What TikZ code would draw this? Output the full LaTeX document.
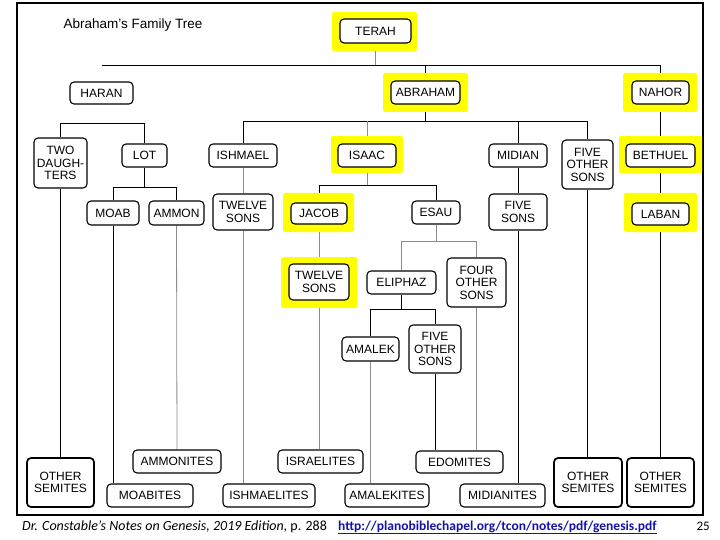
\documentclass[tikz,border=0pt]{standalone}
\usepackage{fontspec}
\setmainfont{Liberation Sans}
\newfontfamily\footfont{Carlito}
\pgfdeclarelayer{background}
\pgfsetlayers{background,main}
\definecolor{hlyellow}{RGB}{255,255,0}
\definecolor{linegray}{RGB}{140,140,140}
\definecolor{urlblue}{RGB}{20,20,170}
\begin{document}
\begin{tikzpicture}[x=1pt,y=-1pt,
  box/.style={draw=black, line width=1.1pt, rounded corners=4pt, fill=white, inner sep=0pt,
    align=center, font=\fontsize{12}{12.5}\selectfont},
  thick box/.style={box, line width=1.7pt},
  hl/.style={fill=hlyellow, rounded corners=2pt, inner sep=0pt},
  conn/.style={draw=black, line width=0.8pt},
  gconn/.style={draw=linegray, line width=0.8pt}]
\useasboundingbox (0,0) rectangle (720,540);
\draw[line width=1.5pt] (17,3) rectangle (703,515);
\node[anchor=base west, font=\fontsize{13.5}{15}\selectfont] (title) at (60,29) {Abraham’s Family Tree};
% highlights
\node[hl, minimum width=85pt, minimum height=39pt] (terahH) at (374.5,31.5) {};
\node[hl, minimum width=85pt, minimum height=39pt] (abrahamH) at (425.5,92.5) {};
\node[hl, minimum width=74pt, minimum height=39pt] (nahorH) at (660,92.5) {};
\node[hl, minimum width=72pt, minimum height=37pt] (isaacH) at (367,154.5) {};
\node[hl, minimum width=83pt, minimum height=37pt] (bethuelH) at (660.5,154.5) {};
\node[hl, minimum width=71pt, minimum height=39pt] (jacobH) at (318.5,212.5) {};
\node[hl, minimum width=73pt, minimum height=39pt] (labanH) at (660.5,212.5) {};
\node[hl, minimum width=76pt, minimum height=51pt] (twelveJH) at (319,282.5) {};
% boxes
\node[box, minimum width=71pt, minimum height=24pt] (terah) at (375.5,31) {TERAH};
\node[box, minimum width=63pt, minimum height=22pt] (haran) at (101.5,93) {HARAN};
\node[box, minimum width=69pt, minimum height=23pt] (abraham) at (425.5,92.5) {ABRAHAM};
\node[box, minimum width=57pt, minimum height=23pt] (nahor) at (660.5,92.5) {NAHOR};
\node[box, minimum width=53pt, minimum height=50pt] (twoD) at (60.5,163) {TWO\\DAUGH-\\TERS};
\node[box, minimum width=45pt, minimum height=23pt] (lot) at (144.5,155.5) {LOT};
\node[box, minimum width=68pt, minimum height=23pt] (ishmael) at (243,155.5) {ISHMAEL};
\node[box, minimum width=58pt, minimum height=23pt] (isaac) at (367,155.5) {ISAAC};
\node[box, minimum width=58pt, minimum height=23pt] (midian) at (518,155.5) {MIDIAN};
\node[box, minimum width=51pt, minimum height=49pt] (fiveOS) at (587.5,164.5) {FIVE\\OTHER\\SONS};
\node[box, minimum width=69pt, minimum height=23pt] (bethuel) at (660.5,155.5) {BETHUEL};
\node[box, minimum width=52pt, minimum height=24pt] (moab) at (113,213) {MOAB};
\node[box, minimum width=55pt, minimum height=24pt] (ammon) at (176.5,213) {AMMON};
\node[box, minimum width=60pt, minimum height=36pt] (twelveI) at (243,212) {TWELVE\\SONS};
\node[box, minimum width=56pt, minimum height=21pt] (jacob) at (319,213.5) {JACOB};
\node[box, minimum width=48pt, minimum height=23pt] (esau) at (436,212.5) {ESAU};
\node[box, minimum width=58pt, minimum height=36pt] (fiveS) at (518,212) {FIVE\\SONS};
\node[box, minimum width=57pt, minimum height=22pt] (laban) at (660.5,214) {LABAN};
\node[box, minimum width=60pt, minimum height=36pt] (twelveJ) at (319,282) {TWELVE\\SONS};
\node[box, minimum width=69pt, minimum height=23pt] (eliphaz) at (401.5,282.5) {ELIPHAZ};
\node[box, minimum width=59pt, minimum height=49pt] (fourOS) at (476.5,282.5) {FOUR\\OTHER\\SONS};
\node[box, minimum width=57pt, minimum height=24pt] (amalek) at (370.5,349) {AMALEK};
\node[box, minimum width=52pt, minimum height=48pt] (fiveOS2) at (435,349) {FIVE\\OTHER\\SONS};
\node[thick box, minimum width=67pt, minimum height=49pt] (otherS1) at (60.5,482.5) {OTHER\\SEMITES};
\node[box, minimum width=88pt, minimum height=23pt] (ammonites) at (177,461.5) {AMMONITES};
\node[box, minimum width=86pt, minimum height=23pt] (moabites) at (150,495.5) {MOABITES};
\node[box, minimum width=92pt, minimum height=23pt] (ishmaelites) at (269,495.5) {ISHMAELITES};
\node[box, minimum width=85pt, minimum height=23pt] (israelites) at (320.5,461.5) {ISRAELITES};
\node[box, minimum width=84pt, minimum height=23pt] (amalekites) at (387,495.5) {AMALEKITES};
\node[box, minimum width=87pt, minimum height=22pt] (edomites) at (459.5,462) {EDOMITES};
\node[box, minimum width=85pt, minimum height=23pt] (midianites) at (502.5,495.5) {MIDIANITES};
\node[thick box, minimum width=68pt, minimum height=49pt] (otherS2) at (588,482.5) {OTHER\\SEMITES};
\node[thick box, minimum width=67pt, minimum height=49pt] (otherS3) at (660.5,482.5) {OTHER\\SEMITES};
% bus coordinates
\coordinate (busT) at (0,65);
\coordinate (busH) at (0,123);
\coordinate (busA) at (0,121);
\coordinate (busL) at (0,187);
\coordinate (busI) at (0,185);
\coordinate (busE) at (0,241);
\coordinate (busP) at (0,309);
\begin{pgfonlayer}{background}
\fill[white] (0,0) rectangle (720,540);
% Terah
\draw[gconn] (terah.south) -- (terah.south |- busT);
\draw[conn] (haran.north |- busT) -- (nahor.north |- busT) -- (nahor.north);
\draw[conn] (abraham.north) -- (abraham.north |- busT);
% Haran children
\draw[conn] (twoD.north) -- (twoD.north |- busH) -- (lot.north |- busH) -- (lot.north);
% Abraham
\draw[conn] (abraham.south) -- (abraham.south |- busA);
\draw[conn] (ishmael.north) -- (ishmael.north |- busA) -- (fiveOS.north |- busA) -- (fiveOS.north);
\draw[gconn] (isaac.north) -- (isaac.north |- busA);
\draw[conn] (midian.north) -- (midian.north |- busA);
% Nahor line
\draw[conn] (nahor.south) -- (bethuel.north);
\draw[conn] (bethuel.south) -- (laban.north);
\draw[conn] (laban.south) -- (otherS3.north);
% Haran line
\draw[conn] (twoD.south) -- (otherS1.north);
\draw[conn] (lot.south) -- (lot.south |- busL);
\draw[conn] (moab.north) -- (moab.north |- busL) -- (ammon.north |- busL) -- (ammon.north);
\draw[conn] (moab.south) -- (moab.south |- moabites.north);
\draw[gconn] (ammon.south) -- (ammonites.north);
% Ishmael
\draw[gconn] (ishmael.south) -- (twelveI.north);
\draw[gconn] (twelveI.south) -- (twelveI.south |- ishmaelites.north);
% Isaac
\draw[gconn] (isaac.south) -- (isaac.south |- busI);
\draw[conn] (jacob.north) -- (jacob.north |- busI) -- (esau.north |- busI) -- (esau.north);
\draw[gconn] (jacob.south) -- (twelveJ.north);
\draw[gconn] (twelveJ.south) -- (twelveJ.south |- israelites.north);
% Esau
\draw[gconn] (esau.south) -- (esau.south |- busE);
\draw[gconn] (eliphaz.north) -- (eliphaz.north |- busE) -- (fourOS.north |- busE) -- (fourOS.north);
\draw[conn] (eliphaz.south) -- (eliphaz.south |- busP);
\draw[conn] (amalek.north) -- (amalek.north |- busP) -- (fiveOS2.north |- busP) -- (fiveOS2.north);
\draw[gconn] (amalek.south) -- (amalek.south |- amalekites.north);
\draw[conn] (fiveOS2.south) -- (fiveOS2.south |- edomites.north);
\draw[gconn] (fourOS.south) -- (fourOS.south |- edomites.north);
% Midian
\draw[conn] (midian.south) -- (fiveS.north);
\draw[conn] (fiveS.south) -- (fiveS.south |- midianites.north);
% Abraham's other sons
\draw[conn] (fiveOS.south) -- (fiveOS.south |- otherS2.north);
\end{pgfonlayer}
% footer
\node[anchor=base west, inner sep=0pt, font=\footfont\fontsize{14}{16}\selectfont] (foot) at (22,530) {\itshape Dr. Constable’s Notes on Genesis, 2019 Edition, \upshape p. 288};
\node[anchor=base west, inner sep=0pt, font=\footfont\bfseries\fontsize{13.5}{16}\selectfont, text=urlblue] (url) at (338,530) {\underline{http://planobiblechapel.org/tcon/notes/pdf/genesis.pdf}};
\node[anchor=base east, inner sep=0pt, font=\footfont\fontsize{13}{16}\selectfont] (pagenum) at (710,530) {25};
\end{tikzpicture}
\end{document}
